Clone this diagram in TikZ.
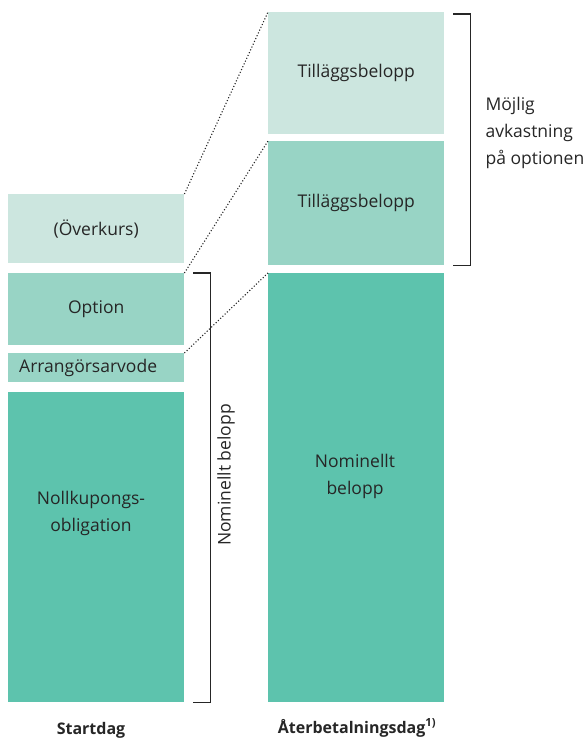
\documentclass[tikz,border=0pt]{standalone}
\usepackage{fontspec}
\setmainfont{Open Sans}
\usepackage{tikz}
\usetikzlibrary{positioning}

\definecolor{ljus}{HTML}{CCE6DF}
\definecolor{mellan}{HTML}{98D4C5}
\definecolor{mork}{HTML}{5DC3AD}
\definecolor{grafit}{HTML}{262626}

\begin{document}
\begin{tikzpicture}[x=1pt, y=-1pt, font=\fontsize{17.5}{27}\selectfont, text=grafit]
	\tikzstyle{block} = [anchor=north west, inner sep=0pt, minimum width=176pt]
	\tikzstyle{dots} = [dotted, line width=1.1pt, grafit]
	\tikzstyle{brace} = [line width=1.1pt, grafit]
	\useasboundingbox (0,0) rectangle (586,740);
	% startdag
	\node[block, fill=ljus, minimum height=69pt] (overkurs) at (8,194) {(Överkurs)};
	\node[block, fill=mellan, minimum height=72pt] (option) at (8,273) {Option};
	\node[block, fill=mellan, minimum height=29pt] (arvode) at (8,353) {};
	\node[anchor=west, inner sep=0pt] (arvodetxt) at (19,368) {Arrangörsarvode};
	\node[block, fill=mork, minimum height=310pt] (nollkup) at (8,392) {};
	\node[align=center] (nollkuptxt) at (91,513) {Nollkupongs-\\obligation};
	% aterbetalningsdag
	\node[block, fill=ljus, minimum height=122pt] (tillagg1) at (268,12) {Tilläggsbelopp};
	\node[block, fill=mellan, minimum height=124pt] (tillagg2) at (268,141) {Tilläggsbelopp};
	\node[block, fill=mork, minimum height=429pt] (nominellt) at (268,273) {};
	\node[align=center] (nominellttxt) at (355,476) {Nominellt\\belopp};
	% prickade linjer
	\draw[dots] (overkurs.north east) -- (tillagg1.north west);
	\draw[dots] (option.north east) -- (tillagg2.north west);
	\draw[dots] (arvode.north east) -- (nominellt.north west);
	% klamrar
	\draw[brace] ([xshift=9pt]option.north east) -- ++(17,0) |- ([xshift=9pt]nollkup.south east);
	\node[rotate=90] (nomtxt) at (226,475) {Nominellt belopp};
	\draw[brace] ([xshift=9pt,yshift=-2pt]tillagg1.north east) -- ++(17,0) |- ([xshift=9pt]tillagg2.south east);
	\node[align=left, anchor=west] (mojlig) at (482,133) {Möjlig\\avkastning\\på optionen};
	% rubriker
	\node[font=\fontsize{16}{18}\selectfont\bfseries] (start) at (91,730) {Startdag};
	\node[font=\fontsize{16}{18}\selectfont\bfseries] (ater) at (357,728) {Återbetalningsdag\textsuperscript{1)}};
\end{tikzpicture}
\end{document}
